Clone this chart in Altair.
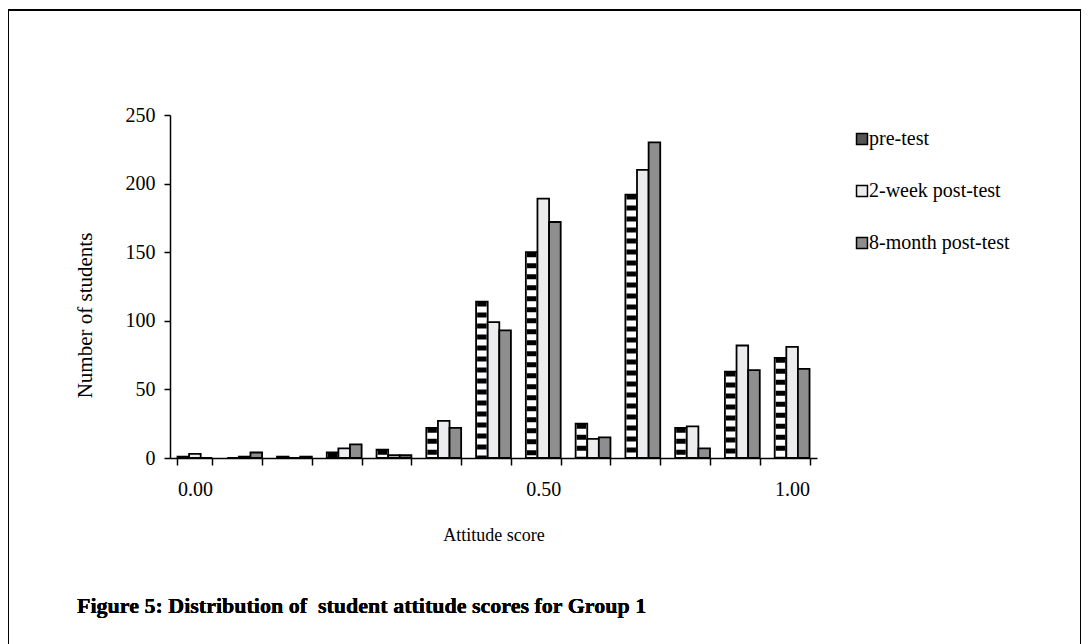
import altair as alt
import pandas as pd

scores = ["0.00", "0.07", "0.14", "0.21", "0.29", "0.36", "0.43",
          "0.50", "0.57", "0.64", "0.71", "0.86", "1.00"]
series = ["pre-test", "2-week post-test", "8-month post-test"]
pre_test = [1, 0, 1, 4, 6, 22, 114, 150, 25, 192, 22, 63, 73]
week2_post = [3, 1, 0, 7, 2, 27, 99, 189, 14, 210, 23, 82, 81]
month8_post = [0, 4, 1, 10, 2, 22, 93, 172, 15, 230, 7, 64, 65]
shown_labels = ["0.00", "0.50", "1.00"]
y_ticks = [0, 50, 100, 150, 200, 250]
title_text = "Figure 5: Distribution of\u00a0 student attitude scores for Group 1"

rows = []
for i, s in enumerate(scores):
    for name, vals in zip(series, [pre_test, week2_post, month8_post]):
        rows.append({"score": s, "series": name, "count": vals[i]})
df = pd.DataFrame(rows)
legend_df = pd.DataFrame({"series": series})

W, H = 647, 343
FONT = "Liberation Serif"

x_enc = alt.X(
    "score:N", sort=scores,
    scale=alt.Scale(paddingInner=0.3, paddingOuter=0.15),
    axis=alt.Axis(
        title="Attitude score", labelAngle=0, tickBand="extent",
        labelExpr="indexof(" + str(shown_labels) + ", datum.value) >= 0 ? datum.value : ''",
        labelPadding=14, titlePadding=27, tickSize=7, titleFontSize=18,
    ),
)
xo_enc = alt.XOffset("series:N", sort=series,
                     scale=alt.Scale(domain=series, paddingInner=0, paddingOuter=0))
y_scale = alt.Scale(domain=[0, 250], nice=False)

bars = alt.Chart(df).mark_bar(stroke="black", strokeWidth=1.8).encode(
    x=x_enc,
    xOffset=xo_enc,
    y=alt.Y("count:Q", scale=y_scale,
            axis=alt.Axis(values=y_ticks, title="Number of students", grid=False,
                          tickSize=6, labelPadding=9, titlePadding=30,
                          titleFontSize=21, titleY=200)),
    fill=alt.Fill("series:N", sort=series,
                  scale=alt.Scale(domain=series, range=["white", "#ececee", "#8e8e8e"]),
                  legend=None),
)

stripes = alt.Chart(df).transform_filter(
    alt.datum.series == "pre-test"
).mark_rule(color="black", strokeDash=[5, 6], strokeWidth=9.5, strokeCap="butt").encode(
    x=x_enc,
    xOffset=xo_enc,
    y=alt.Y("count:Q", scale=y_scale, axis=None),
    y2=alt.datum(0),
)

leg_y = alt.Y("series:N", sort=series, axis=None,
              scale=alt.Scale(type="point", domain=series, range=[24, 128], padding=0))
leg_sym = alt.Chart(legend_df).mark_square(size=120, stroke="black", strokeWidth=1.5,
                                           opacity=1).encode(
    x=alt.value(692),
    y=leg_y,
    fill=alt.Fill("series:N", sort=series,
                  scale=alt.Scale(domain=series, range=["#555555", "#ececee", "#8e8e8e"]),
                  legend=None),
)
leg_txt = alt.Chart(legend_df).mark_text(align="left", baseline="middle", font=FONT,
                                         fontSize=20, color="black").encode(
    x=alt.value(699),
    y=leg_y,
    text="series:N",
)

border = alt.Chart(legend_df).mark_rect(fill=None, stroke="black", strokeWidth=2).encode(
    x=alt.value(-162), x2=alt.value(911),
    y=alt.value(-105), y2=alt.value(600),
)
title = alt.Chart(legend_df).mark_text(align="left", baseline="middle", font=FONT,
                                       fontSize=22, fontWeight="bold", color="black").encode(
    x=alt.value(-93), y=alt.value(491),
    text=alt.value(title_text),
)

chart = alt.layer(border, bars, stripes, leg_sym, leg_txt, title).resolve_scale(
    y="independent", fill="independent"
).properties(
    width=W, height=H,
    autosize=alt.AutoSizeParams(type="none"),
    padding={"left": 162, "top": 107, "right": 264, "bottom": 186},
).configure_view(stroke=None).configure_axis(
    labelFont=FONT, titleFont=FONT, labelFontSize=20, titleFontSize=20,
    labelColor="black", titleColor="black", titleFontWeight="normal",
    domainColor="black", tickColor="black", domainWidth=1.5, tickWidth=1.5,
)

chart.save("out.html", embed_options={"renderer": "svg", "actions": False})
